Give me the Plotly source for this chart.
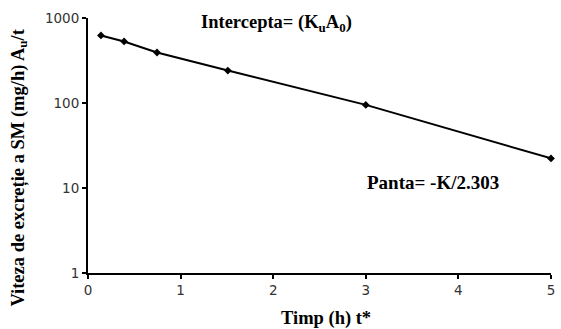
import plotly.graph_objects as go

time_h = [0.14, 0.39, 0.745, 1.51, 3.0, 5.0]
rate = [624, 530, 393, 241, 95, 22.3]
x_ticks = [0, 1, 2, 3, 4, 5]
y_ticks = [1, 10, 100, 1000]
y_ticklabels = ["1", "10", "100", "1000"]

W, H = 561, 329
l, r, t, b = 88, 6, 18, 56
pw, ph = W - l - r, H - t - b


def px(xp):
    return (xp - l) / pw


def py(yp):
    return (H - b - yp) / ph


fig = go.Figure()
fig.add_trace(go.Scatter(
    x=time_h, y=rate, mode="lines+markers",
    line=dict(color="black", width=2),
    marker=dict(symbol="diamond", size=6, color="black"),
    showlegend=False,
    cliponaxis=False,
))

serif = "Liberation Serif, Times New Roman, serif"
tickfont = dict(family="DejaVu Sans, Arial", size=13.5, color="#333")
fig.update_layout(
    width=W, height=H,
    margin=dict(l=l, r=r, t=t, b=b),
    paper_bgcolor="white", plot_bgcolor="white",
    xaxis=dict(
        range=[0, 5], tickvals=x_ticks, showgrid=False, zeroline=False,
        showline=True, linecolor="black", linewidth=2,
        ticks="outside", ticklen=4, tickwidth=2, tickcolor="black",
        tickfont=tickfont,
    ),
    yaxis=dict(
        type="log", range=[0, 3], tickvals=y_ticks, ticktext=y_ticklabels,
        showgrid=False, zeroline=False,
        showline=True, linecolor="black", linewidth=2,
        ticks="outside", ticklen=4, tickwidth=2, tickcolor="black",
        tickfont=tickfont,
    ),
    annotations=[
        dict(x=px(200), y=py(23), xref="paper", yref="paper", showarrow=False,
             xanchor="left", yanchor="middle",
             text="<b>Intercepta= (K<sub>u</sub>A<sub>0</sub>)</b>",
             font=dict(family=serif, size=18.5, color="black")),
        dict(x=px(367), y=py(183), xref="paper", yref="paper", showarrow=False,
             xanchor="left", yanchor="middle",
             text="<b>Panta= -K/2.303</b>",
             font=dict(family=serif, size=19, color="black")),
        dict(x=px(328), y=py(318), xref="paper", yref="paper", showarrow=False,
             xanchor="center", yanchor="middle",
             text="<b>Timp (h) t*</b>",
             font=dict(family=serif, size=18.5, color="black")),
        dict(x=px(18), y=py(168), xref="paper", yref="paper", showarrow=False,
             xanchor="center", yanchor="middle", textangle=-90,
             text="<b>Viteza de excreție a SM (mg/h) A<sub>u</sub>/t</b>",
             font=dict(family=serif, size=18.5, color="black")),
    ],
)

fig.write_html("out.html")
